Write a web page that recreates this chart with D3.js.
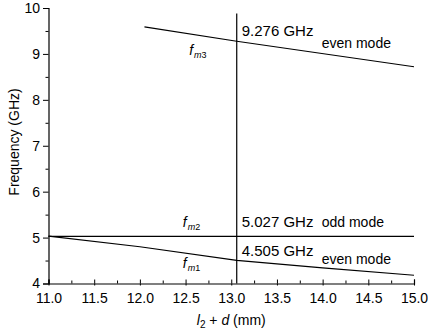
<!DOCTYPE html>
<html>
<head>
<meta charset="utf-8">
<script src="https://cdn.jsdelivr.net/npm/d3@7"></script>
<style>
  body { margin: 0; background: #fff; }
  text { font-family: 'Liberation Sans', Arial, sans-serif; fill: #000; }
</style>
</head>
<body>
<svg id="chart"></svg>
<script>
// tick values
const xTicks = [11.0, 11.5, 12.0, 12.5, 13.0, 13.5, 14.0, 14.5, 15.0];
const yTicks = [4, 5, 6, 7, 8, 9, 10];

// mode curves (l2 + d in mm, frequency in GHz)
const fm1X = [11.0, 12.0, 13.06, 14.0, 15.0];
const fm1Y = [5.03, 4.80, 4.505, 4.34, 4.18];
const fm2X = [11.0, 15.0];
const fm2Y = [5.027, 5.027];
const fm3X = [12.05, 13.06, 15.0];
const fm3Y = [9.59, 9.276, 8.72];

// marker line
const markerX = 13.06;
const markerY = [4, 9.88];

// labels
const freqLabels = ['9.276 GHz', '5.027 GHz', '4.505 GHz'];
const modeLabels = ['even mode', 'odd mode', 'even mode'];
const curveNames = ['3', '2', '1'];

const width = 428, height = 333;

const svg = d3.select('#chart')
  .attr('width', width)
  .attr('height', height);

const x = d3.scaleLinear().domain([11, 15]).range([48.5, 414]);
const y = d3.scaleLinear().domain([4, 10]).range([283.5, 8]);

const minor = (arr, step) => arr.slice(0, -1).map(v => v + step / 2);

// axes
const xAxis = svg.append('g')
  .attr('transform', `translate(0, ${ y(4) })`)
  .call(d3.axisBottom(x).tickValues(xTicks).tickFormat(d3.format('.1f'))
    .tickSize(-4).tickPadding(9.5));
svg.append('g')
  .attr('transform', `translate(0, ${ y(4) })`)
  .call(d3.axisBottom(x).tickValues(xTicks).tickFormat('').tickSize(2))
  .select('.domain').remove();
svg.append('g')
  .attr('transform', `translate(0, ${ y(4) })`)
  .call(d3.axisBottom(x).tickValues(minor(xTicks, 0.5)).tickFormat('').tickSize(-3))
  .select('.domain').remove();

const yAxis = svg.append('g')
  .attr('transform', `translate(${ x(11) }, 0)`)
  .call(d3.axisLeft(y).tickValues(yTicks).tickFormat(d3.format('d'))
    .tickSize(5.5).tickPadding(3));
svg.append('g')
  .attr('transform', `translate(${ x(11) }, 0)`)
  .call(d3.axisLeft(y).tickValues(minor(yTicks, 1)).tickFormat('').tickSize(3))
  .select('.domain').remove();

svg.selectAll('.domain').attr('stroke', '#000').attr('stroke-width', 1.2);
svg.selectAll('.tick line').attr('stroke', '#000').attr('stroke-width', 1);
svg.selectAll('.tick text')
  .attr('font-family', "'Liberation Sans', Arial, sans-serif")
  .attr('font-size', 14)
  .attr('fill', '#000');

// axis titles
svg.append('text')
  .attr('transform', `translate(19, ${ 142 }) rotate(-90)`)
  .attr('text-anchor', 'middle')
  .attr('font-size', 14)
  .text('Frequency (GHz)');

const xt = svg.append('text')
  .attr('x', (x(11) + x(15)) / 2)
  .attr('y', 325)
  .attr('text-anchor', 'middle')
  .attr('font-size', 14);
xt.append('tspan').attr('font-style', 'italic').text('l');
xt.append('tspan').attr('font-size', 10).attr('dy', 3).text('2');
xt.append('tspan').attr('dy', -3).text(' + ');
xt.append('tspan').attr('font-style', 'italic').text('d');
xt.append('tspan').text(' (mm)');

// curves
const line = d3.line().x(d => x(d[0])).y(d => y(d[1]));
const curves = [
  d3.zip(fm3X, fm3Y),
  d3.zip(fm2X, fm2Y),
  d3.zip(fm1X, fm1Y)
];

svg.append('g')
  .selectAll('path')
  .data(curves)
  .enter().append('path')
  .attr('d', line)
  .attr('fill', 'none')
  .attr('stroke', '#000')
  .attr('stroke-width', 1.2);

svg.append('line')
  .attr('x1', x(markerX)).attr('x2', x(markerX))
  .attr('y1', y(markerY[0])).attr('y2', y(markerY[1]))
  .attr('stroke', '#000')
  .attr('stroke-width', 1.2);

// annotations: frequency readouts next to the marker line
const freqPos = [9.39, 5.23, 4.60];
svg.append('g')
  .selectAll('text')
  .data(freqLabels)
  .enter().append('text')
  .attr('x', x(markerX) + 5)
  .attr('y', (d, i) => y(freqPos[i]))
  .attr('font-size', 15)
  .text(d => d);

const modePos = [9.118, 5.23, 4.425];
svg.append('g')
  .selectAll('text')
  .data(modeLabels)
  .enter().append('text')
  .attr('x', x(13.99))
  .attr('y', (d, i) => y(modePos[i]))
  .attr('font-size', 14)
  .text(d => d);

const namePos = [[12.54, 8.976], [12.47, 5.23], [12.47, 4.338]];
const names = svg.append('g')
  .selectAll('text')
  .data(curveNames)
  .enter().append('text')
  .attr('x', (d, i) => x(namePos[i][0]))
  .attr('y', (d, i) => y(namePos[i][1]))
  .attr('font-size', 14);
names.append('tspan').attr('font-style', 'italic').text('f');
names.append('tspan').attr('font-size', 9).attr('dy', 3).attr('dx', 1)
  .attr('font-style', 'italic').text('m');
names.append('tspan').attr('font-size', 9).text(d => d);
</script>
</body>
</html>
